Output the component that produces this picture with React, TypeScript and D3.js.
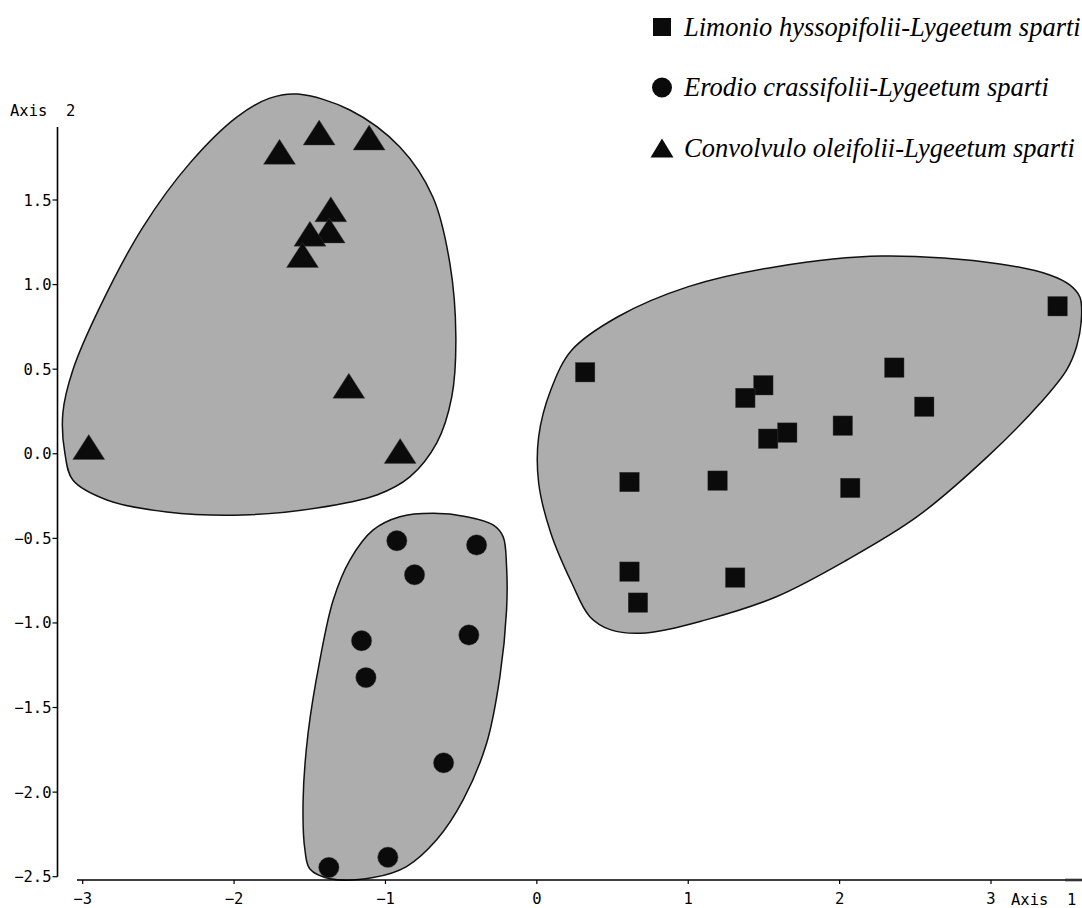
import React from 'react';
import * as d3 from 'd3';

// ordination scores (Axis 1, Axis 2)
const limonioPts: [number, number][] = [
  [3.44, 0.872], [0.319, 0.482], [2.361, 0.509], [1.496, 0.405], [1.377, 0.33],
  [2.559, 0.278], [2.021, 0.166], [1.654, 0.125], [1.528, 0.089], [0.612, -0.167],
  [1.194, -0.159], [2.07, -0.202], [0.612, -0.697], [1.31, -0.732], [0.668, -0.88],
];

const erodioPts: [number, number][] = [
  [-0.925, -0.514], [-0.398, -0.539], [-0.808, -0.715], [-1.158, -1.105], [-0.449, -1.071],
  [-1.129, -1.323], [-0.616, -1.827], [-0.984, -2.385], [-1.374, -2.446],
];

const convolvuloPts: [number, number][] = [
  [-2.96, 0.04], [-1.7, 1.785], [-1.438, 1.899], [-1.108, 1.869], [-1.361, 1.445],
  [-1.372, 1.32], [-1.499, 1.301], [-1.548, 1.175], [-1.242, 0.402], [-0.903, 0.017],
];

// outlines of the hand drawn group envelopes
const limonioHull: [number, number][] = [
  [2.279, 1.169], [3.058, 1.122], [3.388, 1.057], [3.52, 0.998], [3.587, 0.927],
  [3.598, 0.809], [3.565, 0.633], [3.499, 0.495], [3.326, 0.3], [2.977, -0.017],
  [2.512, -0.372], [2.048, -0.628], [1.582, -0.845], [1.116, -0.982], [0.72, -1.059],
  [0.489, -1.041], [0.35, -0.963], [0.231, -0.764], [0.092, -0.468], [0.012, -0.173],
  [0.012, 0.101], [0.092, 0.377], [0.231, 0.613], [0.535, 0.81], [1.001, 0.988],
  [1.582, 1.106],
];

const erodioHull: [number, number][] = [
  [-0.685, -0.352], [-0.464, -0.372], [-0.289, -0.421], [-0.223, -0.49], [-0.2, -0.667],
  [-0.2, -0.923], [-0.244, -1.317], [-0.332, -1.711], [-0.487, -2.046], [-0.662, -2.282],
  [-0.861, -2.44], [-1.081, -2.505], [-1.367, -2.512], [-1.499, -2.455], [-1.532, -2.342],
  [-1.544, -2.046], [-1.511, -1.65], [-1.433, -1.218], [-1.345, -0.864], [-1.235, -0.628],
  [-1.081, -0.45], [-0.905, -0.372],
];

const convolvuloHull: [number, number][] = [
  [-1.579, 2.126], [-1.235, 2.032], [-0.905, 1.813], [-0.687, 1.518], [-0.575, 1.128],
  [-0.535, 0.69], [-0.562, 0.336], [-0.661, 0.064], [-0.839, -0.137], [-1.057, -0.244],
  [-1.453, -0.321], [-1.942, -0.362], [-2.444, -0.344], [-2.84, -0.273], [-3.065, -0.155],
  [-3.118, 0.005], [-3.131, 0.241], [-3.065, 0.495], [-2.886, 0.868], [-2.602, 1.34],
  [-2.292, 1.718], [-1.982, 1.99], [-1.764, 2.102],
];

const xTicks = [-3, -2, -1, 0, 1, 2, 3];
const yTicks = [-2.5, -2.0, -1.5, -1.0, -0.5, 0.0, 0.5, 1.0, 1.5];
const legendLabels = [
  'Limonio hyssopifolii-Lygeetum sparti',
  'Erodio crassifolii-Lygeetum sparti',
  'Convolvulo oleifolii-Lygeetum sparti',
];

const width = 1082;
const height = 908;
const ink = '#0b0b0b';
const hullFill = '#adadad';
const mono = '"DejaVu Sans Mono", monospace';
const tickSize = 15.5;

const x = d3.scaleLinear().domain([-3, 3]).range([82.7, 991]);
const y = d3.scaleLinear().domain([-2.5, 1.5]).range([876.7, 200]);

const hullLine = d3
  .line<[number, number]>()
  .x((d) => x(d[0]))
  .y((d) => y(d[1]))
  .curve(d3.curveCatmullRomClosed.alpha(0.5));

const tri = (cx: number, cy: number, w: number, h: number) =>
  `M${cx},${cy - h / 2}L${cx + w / 2},${cy + h / 2}L${cx - w / 2},${cy + h / 2}Z`;

export default function App() {
  const fmtY = d3.format('.1f');
  const xAxisY = 880;
  const yAxisX = 57.5;

  return (
    <svg
      width={width}
      height={height}
      style={{ position: 'absolute', left: 0, top: 0, background: '#fff' }}
    >
      {/* envelopes */}
      {[convolvuloHull, erodioHull, limonioHull].map((h, i) => (
        <path key={i} d={hullLine(h) || ''} fill={hullFill} stroke="#111" strokeWidth={1.5} />
      ))}

      {/* axes */}
      <line x1={yAxisX} x2={yAxisX} y1={127} y2={y(-2.5)} stroke="#000" strokeWidth={1.6} />
      {yTicks.map((t) => (
        <g key={t}>
          <line x1={yAxisX - 5} x2={yAxisX} y1={y(t)} y2={y(t)} stroke="#000" strokeWidth={1.2} />
          <text
            x={yAxisX - 6}
            y={y(t) + 5.5}
            textAnchor="end"
            fontFamily={mono}
            fontSize={tickSize}
            fill="#000"
          >
            {fmtY(t)}
          </text>
        </g>
      ))}
      <text x={10} y={116} fontFamily={mono} fontSize={tickSize} fill="#000" style={{ whiteSpace: 'pre' }}>
        {'Axis  2'}
      </text>

      <line x1={77} x2={width} y1={xAxisY} y2={xAxisY} stroke="#000" strokeWidth={1.6} />
      <line x1={1065} x2={width} y1={xAxisY} y2={xAxisY} stroke="#333" strokeWidth={2.6} />
      {xTicks.map((t) => (
        <g key={t}>
          <line x1={x(t)} x2={x(t)} y1={xAxisY} y2={xAxisY + 4} stroke="#000" strokeWidth={1.2} />
          <text x={x(t)} y={904} textAnchor="middle" fontFamily={mono} fontSize={tickSize} fill="#000">
            {d3.format('d')(t)}
          </text>
        </g>
      ))}
      <text x={1011} y={905} fontFamily={mono} fontSize={tickSize} fill="#000" style={{ whiteSpace: 'pre' }}>
        {'Axis  1'}
      </text>

      {/* points */}
      {limonioPts.map((d, i) => (
        <rect key={`s${i}`} x={x(d[0]) - 9.75} y={y(d[1]) - 9.75} width={19.5} height={19.5} fill={ink} stroke="#444" strokeWidth={0.4} />
      ))}
      {erodioPts.map((d, i) => (
        <circle key={`c${i}`} cx={x(d[0])} cy={y(d[1])} r={10.2} fill={ink} stroke="#444" strokeWidth={0.4} />
      ))}
      {convolvuloPts.map((d, i) => (
        <path key={`t${i}`} d={tri(x(d[0]), y(d[1]), 32, 25)} fill={ink} stroke="#444" strokeWidth={0.4} />
      ))}

      {/* legend */}
      {legendLabels.map((label, i) => {
        const cy = 27 + i * 60.5;
        return (
          <g key={label}>
            {i === 0 && <rect x={653} y={cy - 9} width={18} height={18} fill={ink} />}
            {i === 1 && <circle cx={662} cy={cy} r={10} fill={ink} />}
            {i === 2 && <path d={tri(662, cy, 23, 19)} fill={ink} />}
            <text
              x={684}
              y={cy + 8.5}
              fontFamily='"Liberation Serif", serif'
              fontStyle="italic"
              fontSize={26.5}
              fill="#000"
            >
              {label}
            </text>
          </g>
        );
      })}
    </svg>
  );
}
